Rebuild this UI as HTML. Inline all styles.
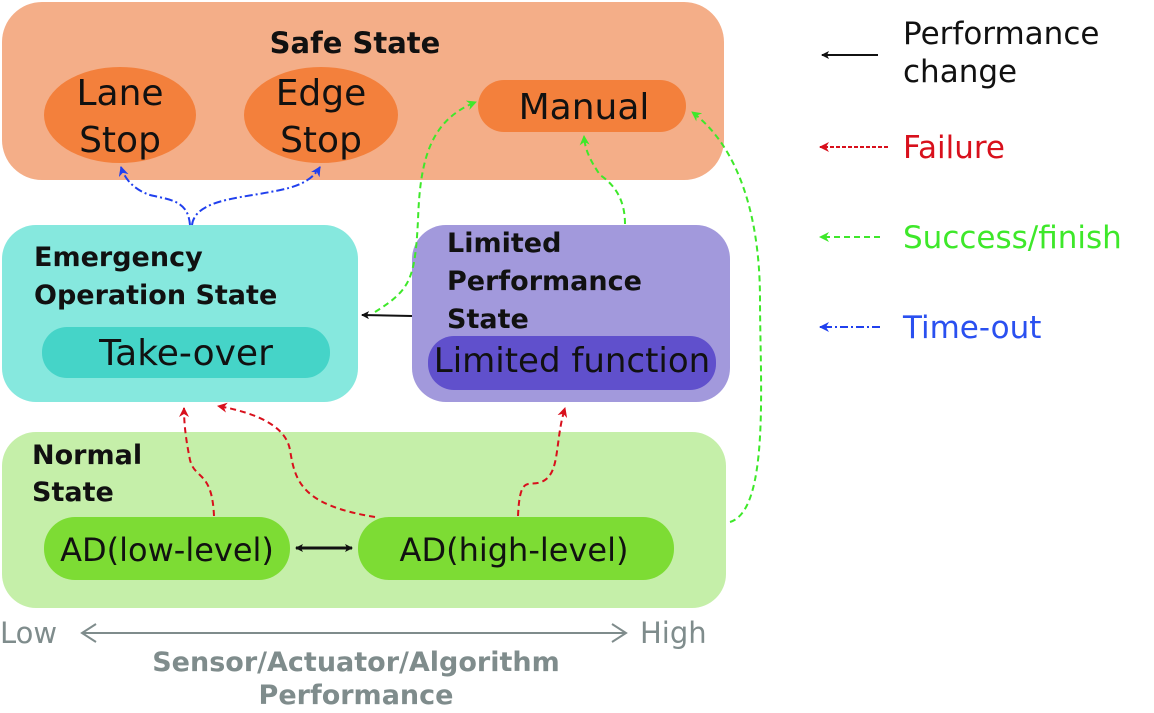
<!DOCTYPE html>
<html><head><meta charset="utf-8"><style>
html,body{margin:0;padding:0;background:#fff;}
svg text{font-family:"DejaVu Sans","Liberation Sans",sans-serif;}
</style></head><body>
<svg width="1154" height="708" viewBox="0 0 1154 708" xmlns="http://www.w3.org/2000/svg">
<defs>
<marker id="bk" markerWidth="8" markerHeight="8" refX="7" refY="4" orient="auto" markerUnits="userSpaceOnUse"><path d="M0,0 L8,4 L0,8 L2,4z" fill="#111"/></marker>
<marker id="bks" markerWidth="8" markerHeight="8" refX="1" refY="4" orient="auto" markerUnits="userSpaceOnUse"><path d="M8,0 L0,4 L8,8 L6,4z" fill="#111"/></marker>
<marker id="rd" markerWidth="10" markerHeight="10" refX="9" refY="5" orient="auto" markerUnits="userSpaceOnUse"><path d="M0,0 L10,5 L0,10 L3,5z" fill="#d8101c"/></marker>
<marker id="gr" markerWidth="10" markerHeight="10" refX="9" refY="5" orient="auto" markerUnits="userSpaceOnUse"><path d="M0,0 L10,5 L0,10 L3,5z" fill="#3ee82a"/></marker>
<marker id="bl" markerWidth="10" markerHeight="10" refX="9" refY="5" orient="auto" markerUnits="userSpaceOnUse"><path d="M0,0 L10,5 L0,10 L3,5z" fill="#2040ee"/></marker>
</defs>
<!-- Safe -->
<rect x="2" y="2" width="722" height="178" rx="40" fill="#f4ae88"/>
<text x="355" y="53" font-size="29" font-weight="bold" text-anchor="middle" fill="#111">Safe State</text>
<ellipse cx="120" cy="115" rx="76" ry="48" fill="#f3803c"/>
<text x="120" y="105" font-size="36" text-anchor="middle" fill="#111">Lane</text>
<text x="120" y="152" font-size="36" text-anchor="middle" fill="#111">Stop</text>
<ellipse cx="321" cy="115" rx="77" ry="48" fill="#f3803c"/>
<text x="321" y="105" font-size="36" text-anchor="middle" fill="#111">Edge</text>
<text x="321" y="152" font-size="36" text-anchor="middle" fill="#111">Stop</text>
<rect x="478" y="80" width="208" height="52" rx="26" fill="#f3803c"/>
<text x="584" y="119" font-size="36" text-anchor="middle" fill="#111">Manual</text>
<!-- Emergency -->
<rect x="2" y="225" width="356" height="177" rx="34" fill="#86e8de"/>
<text x="34" y="266" font-size="27" font-weight="bold" fill="#111">Emergency</text>
<text x="34" y="304" font-size="27" font-weight="bold" fill="#111">Operation State</text>
<rect x="42" y="327" width="288" height="51" rx="25" fill="#45d4c8"/>
<text x="186" y="365" font-size="36" text-anchor="middle" fill="#111">Take-over</text>
<!-- Limited -->
<rect x="412" y="225" width="318" height="177" rx="34" fill="#a299dc"/>
<text x="447" y="252" font-size="27" font-weight="bold" fill="#111">Limited</text>
<text x="447" y="290" font-size="27" font-weight="bold" fill="#111">Performance</text>
<text x="447" y="328" font-size="27" font-weight="bold" fill="#111">State</text>
<rect x="428" y="336" width="288" height="54" rx="26" fill="#6050cc"/>
<text x="572" y="372" font-size="34" text-anchor="middle" fill="#111">Limited function</text>
<!-- Normal -->
<rect x="2" y="432" width="724" height="176" rx="34" fill="#c5efa9"/>
<text x="32" y="464" font-size="27" font-weight="bold" fill="#111">Normal</text>
<text x="32" y="501" font-size="27" font-weight="bold" fill="#111">State</text>
<rect x="44" y="517" width="246" height="63" rx="31" fill="#7ddc34"/>
<text x="167" y="561" font-size="32" text-anchor="middle" fill="#111">AD(low-level)</text>
<rect x="358" y="517" width="316" height="63" rx="31" fill="#7ddc34"/>
<text x="514" y="561" font-size="32" text-anchor="middle" fill="#111">AD(high-level)</text>
<!-- connectors -->
<line x1="296" y1="548" x2="352" y2="548" stroke="#111" stroke-width="3" marker-start="url(#bks)" marker-end="url(#bk)"/>
<line x1="412" y1="316" x2="362" y2="315" stroke="#111" stroke-width="2" marker-end="url(#bk)"/>
<g fill="none" stroke-width="2" stroke-dasharray="6,4">
<path d="M214,516 C212,470 195,480 190,460 C186,440 184,425 184,408" stroke="#d8101c" marker-end="url(#rd)"/>
<path d="M375,517 C300,505 295,480 290,450 C285,420 240,410 218,406" stroke="#d8101c" marker-end="url(#rd)"/>
<path d="M518,516 C520,470 530,490 545,480 C560,470 555,440 565,408" stroke="#d8101c" marker-end="url(#rd)"/>
<path d="M375,312 C410,290 415,280 418,220 C420,160 430,120 476,102" stroke="#3ee82a" marker-end="url(#gr)"/>
<path d="M625,224 C625,200 615,185 600,175 C590,160 585,150 584,136" stroke="#3ee82a" marker-end="url(#gr)"/>
<path d="M730,522 C770,510 760,380 760,300 C760,200 730,140 692,112" stroke="#3ee82a" marker-end="url(#gr)"/>
</g>
<g fill="none" stroke="#2040ee" stroke-width="2" stroke-dasharray="8,3,2,3">
<path d="M190,225 C188,200 170,200 150,195 C135,190 125,180 121,167" marker-end="url(#bl)"/>
<path d="M192,225 C195,200 240,198 270,192 C300,187 312,180 320,167" marker-end="url(#bl)"/>
</g>
<!-- axis -->
<text x="0" y="643" font-size="29" fill="#7f8c8c">Low</text>
<line x1="82" y1="633" x2="626" y2="633" stroke="#7f8c8c" stroke-width="2"/>
<path d="M96,624 L82,633 L96,642" fill="none" stroke="#7f8c8c" stroke-width="2"/>
<path d="M612,624 L626,633 L612,642" fill="none" stroke="#7f8c8c" stroke-width="2"/>
<text x="640" y="643" font-size="29" fill="#7f8c8c">High</text>
<text x="356" y="671" font-size="27" font-weight="bold" text-anchor="middle" fill="#7f8c8c">Sensor/Actuator/Algorithm</text>
<text x="356" y="704" font-size="27" font-weight="bold" text-anchor="middle" fill="#7f8c8c">Performance</text>
<!-- legend -->
<line x1="878" y1="55" x2="822" y2="55" stroke="#111" stroke-width="2" marker-end="url(#bk)"/>
<text x="903" y="44" font-size="31" fill="#111">Performance</text>
<text x="903" y="82" font-size="31" fill="#111">change</text>
<line x1="888" y1="147" x2="820" y2="147" stroke="#d8101c" stroke-width="2" stroke-dasharray="4,2" marker-end="url(#rd)"/>
<text x="903" y="158" font-size="31" fill="#d8101c">Failure</text>
<line x1="880" y1="237" x2="820" y2="237" stroke="#3ee82a" stroke-width="2" stroke-dasharray="6,4" marker-end="url(#gr)"/>
<text x="903" y="248" font-size="31" fill="#3ee82a">Success/finish</text>
<line x1="880" y1="327" x2="820" y2="327" stroke="#2040ee" stroke-width="2" stroke-dasharray="8,3,2,3" marker-end="url(#bl)"/>
<text x="903" y="338" font-size="31" fill="#2a50f0">Time-out</text>
</svg>
</body></html>
